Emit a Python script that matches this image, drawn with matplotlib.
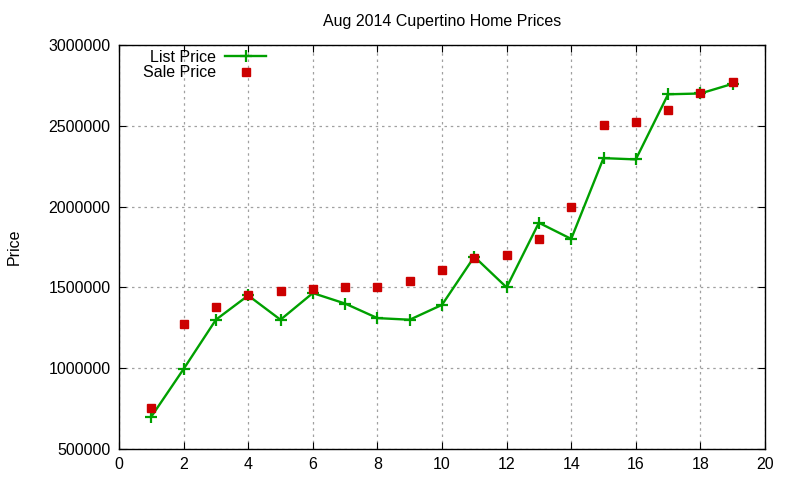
import numpy as np
import matplotlib
matplotlib.use('Agg')
import matplotlib.pyplot as plt

plt.rcParams['font.family'] = ['Liberation Sans', 'DejaVu Sans']

homes = list(range(1, 20))
list_price = [700000, 995000, 1300000, 1450000, 1300000, 1465000, 1400000, 1310000, 1300000, 1392000,
              1690000, 1500000, 1900000, 1800000, 2300000, 2292000, 2695000, 2700000, 2760000]
sale_price = [755000, 1275000, 1380000, 1455000, 1479000, 1491000, 1504000, 1504000, 1541000, 1609000,
              1685000, 1700000, 1800000, 2000000, 2502000, 2525000, 2600000, 2705000, 2772000]

fs = 11.5
fig = plt.figure(figsize=(8, 4.8), dpi=100)
ax = fig.add_axes([119/800, 31/480, 646/800, 404/480])

ax.plot(homes, list_price, color='#00a000', lw=1.7, marker='+', ms=8, mew=1.6, label='List Price')
ax.plot(homes, sale_price, color='#cc0000', ls='none', marker='s', ms=6, label='Sale Price')

ax.set_xlim(0, 20)
ax.set_ylim(500000, 3000000)
ax.set_xticks(np.arange(0, 21, 2))
ax.set_yticks(np.arange(500000, 3000001, 500000))
ax.ticklabel_format(style='plain', axis='y', useOffset=False)
ax.tick_params(direction='in', top=True, right=True, labelsize=fs, length=5, pad=6)
ax.grid(True, color='#a0a0a0', ls=(0, (2, 3)), lw=0.9)
for s in ax.spines.values():
    s.set_linewidth(1.0)

ax.set_title('Aug 2014 Cupertino Home Prices', fontsize=fs, pad=14)
ax.set_ylabel('Price', fontsize=fs, labelpad=19)

leg = ax.legend(loc='upper right', bbox_to_anchor=((268 - 119) / 646, 1.0 - 3 / 404), frameon=False,
                markerfirst=False, fontsize=fs, handlelength=2.6, borderaxespad=0.0,
                labelspacing=0.05, handletextpad=0.55, borderpad=0.1)
for t in leg.get_texts():
    t.set_ha('right')
leg._legend_box.align = 'right'

fig.savefig('out.png', dpi=100)
